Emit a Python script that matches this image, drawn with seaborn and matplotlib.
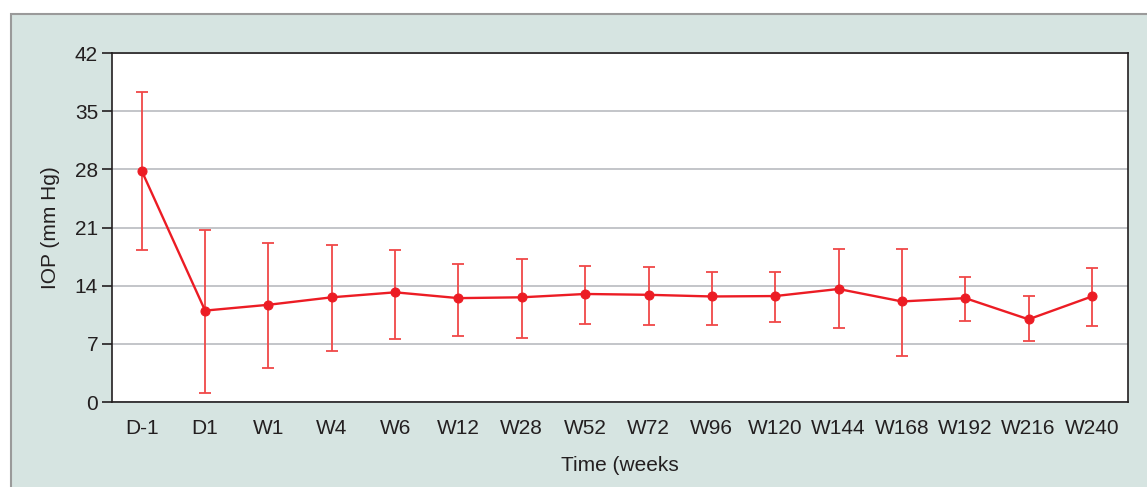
import matplotlib
matplotlib.use("Agg")
import matplotlib.pyplot as plt
import seaborn as sns
import pandas as pd
from matplotlib.patches import Rectangle

timepoints = ["D-1", "D1", "W1", "W4", "W6", "W12", "W28", "W52", "W72",
              "W96", "W120", "W144", "W168", "W192", "W216", "W240"]
iop_mean = [27.8, 11.0, 11.7, 12.6, 13.2, 12.5, 12.6, 13.0, 12.9,
            12.7, 12.75, 13.6, 12.1, 12.5, 9.95, 12.7]
iop_upper = [37.3, 20.7, 19.1, 18.9, 18.3, 16.6, 17.2, 16.4, 16.2,
             15.6, 15.6, 18.4, 18.4, 15.0, 12.7, 16.1]
iop_lower = [18.3, 1.1, 4.1, 6.1, 7.6, 7.9, 7.7, 9.4, 9.3,
             9.3, 9.6, 8.9, 5.5, 9.8, 7.4, 9.1]
y_ticks = [0, 7, 14, 21, 28, 35, 42]

df = pd.DataFrame({"time": timepoints, "iop": iop_mean,
                   "upper": iop_upper, "lower": iop_lower})

sns.set_style("white")
plt.rcParams['font.family'] = ['Liberation Sans', 'DejaVu Sans']

red = "#ec1c24"
text_col = "#231f20"

W, H = 1147, 487
fig = plt.figure(figsize=(W / 100, H / 100), dpi=100)
fig.patch.set_facecolor("white")
fig.patches.append(Rectangle((10.5 / W, -0.05), 1.1, (H - 13.5) / H + 0.05,
                             transform=fig.transFigure, facecolor="#d6e4e1",
                             edgecolor="#9a9a9a", lw=1.5, zorder=-5))

ax = fig.add_axes([112 / W, (H - 402) / H, (1128 - 112) / W, (402 - 53) / H])
ax.set_facecolor("white")

ax.errorbar(df["time"], df["iop"],
            yerr=[df["iop"] - df["lower"], df["upper"] - df["iop"]],
            fmt="none", ecolor="#f04848", elinewidth=1.3, capsize=4.3,
            capthick=1.3, zorder=3)
sns.lineplot(data=df, x="time", y="iop", sort=False, color=red, lw=1.7,
             marker="o", markersize=6.5, markeredgecolor=red, ax=ax, zorder=4)

ax.set_xlim(-0.47, 15.57)
ax.set_ylim(0, 42)
ax.set_yticks(y_ticks)
ax.yaxis.grid(True, color="#b9bbc0", lw=1.2)
ax.set_axisbelow(True)
for s in ax.spines.values():
    s.set_color(text_col)
    s.set_linewidth(1.2)
ax.tick_params(axis="y", left=True, length=7, width=1.2, color=text_col,
               labelsize=15, labelcolor=text_col, pad=3)
ax.tick_params(axis="x", bottom=False, length=0, labelsize=15,
               labelcolor=text_col, pad=12)
ax.set_xlabel("Time (weeks", fontsize=15, color=text_col, labelpad=13)
ax.set_ylabel("IOP (mm Hg)", fontsize=15, color=text_col, labelpad=11)

fig.savefig("out.png", dpi=100)
